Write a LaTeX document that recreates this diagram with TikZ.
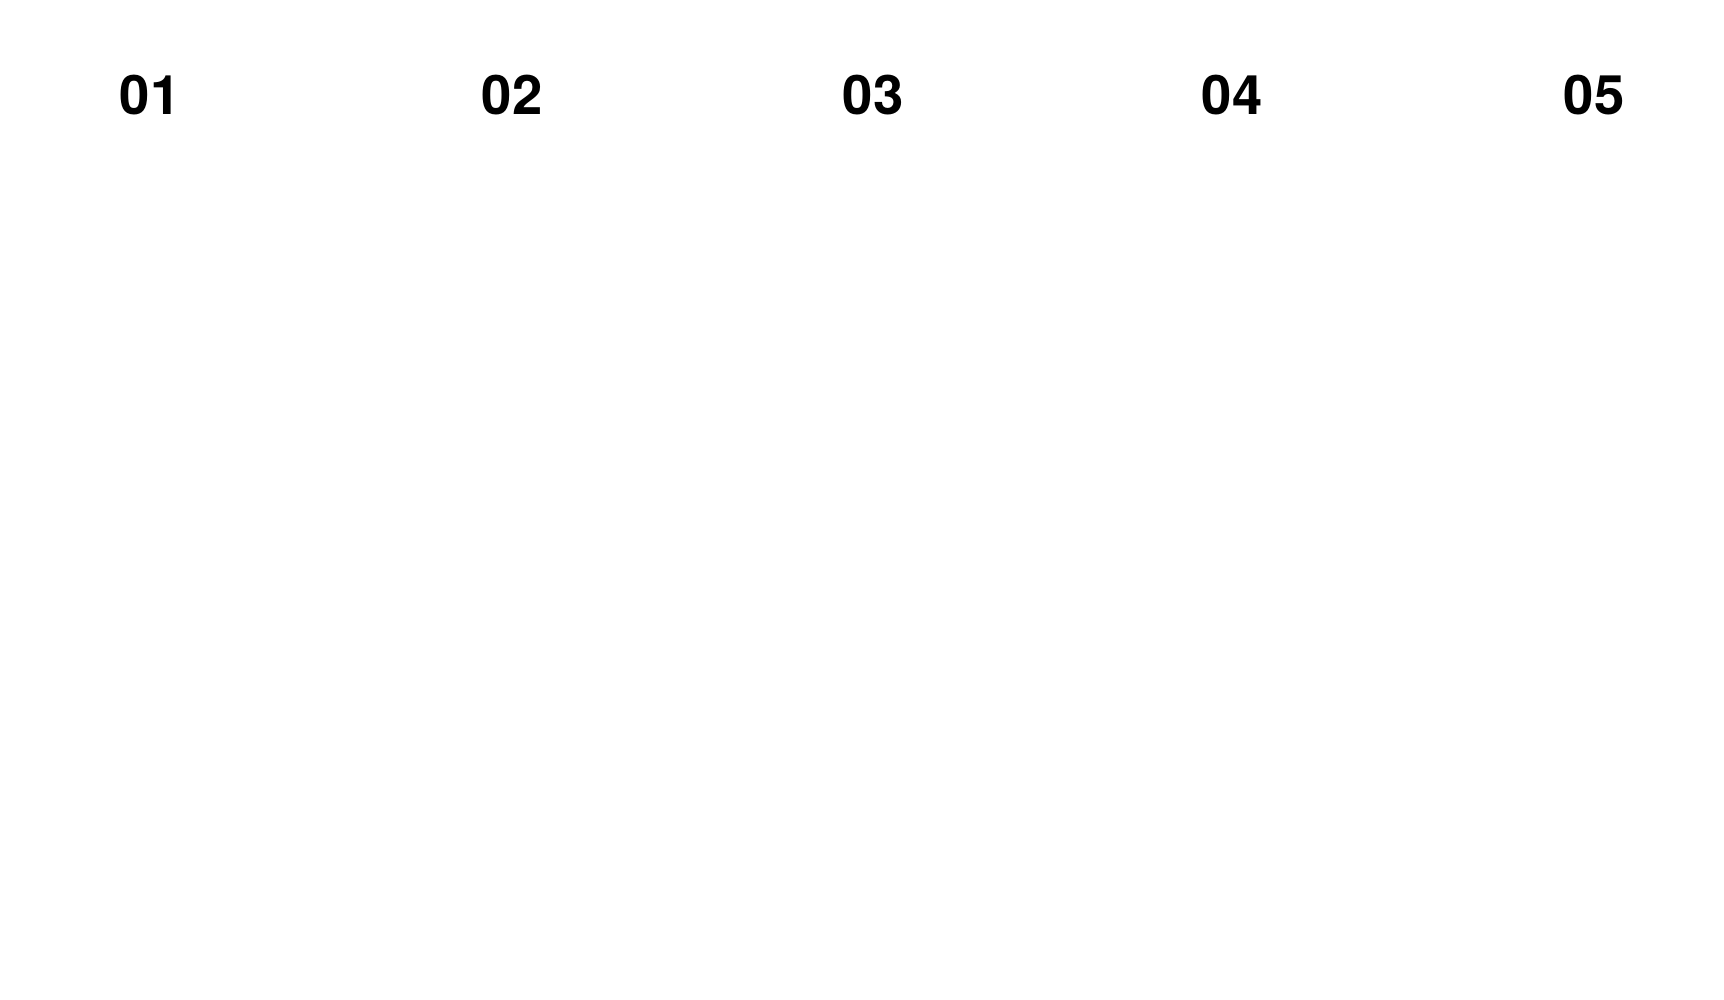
\documentclass[tikz,border=0pt]{standalone}
\usepackage{fontspec}
\setmainfont{TeX Gyre Heros}
\begin{document}
\begin{tikzpicture}
			\tikzstyle{every node}+=[inner sep=0pt]
			\tikzstyle{steplabel}=[font=\fontsize{15.5}{18}\selectfont\bfseries, anchor=base]
			\useasboundingbox (0,0) rectangle (17.24,-10);
			\foreach \i/\x in {1/1.50,2/5.12,3/8.73,4/12.32,5/15.94}
				\node [steplabel] (num\i) at (\x,-1.15) {0\i};
		\end{tikzpicture}
\end{document}
